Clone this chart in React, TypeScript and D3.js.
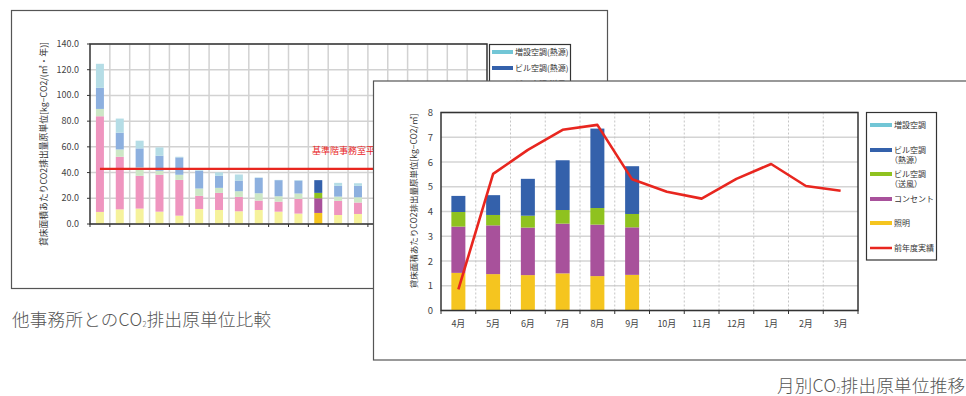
import React from "react";
import * as d3 from "d3";

// ---------- Chart 1: comparison with other offices ----------
const c1Count = 20;
const c1Lighting = [9.4, 11.4, 12.0, 9.6, 6.5, 11.7, 10.9, 9.9, 10.9, 9.6, 8.1, 8.6, 7.0, 7.8];
const c1Outlet = [74.4, 40.9, 25.5, 28.7, 27.8, 10.2, 13.3, 11.2, 7.3, 7.8, 11.4, 11.4, 11.0, 8.9];
const c1Fan = [5.7, 5.7, 6.5, 3.1, 4.0, 5.7, 3.9, 4.4, 5.7, 4.2, 4.2, 4.2, 3.3, 4.1];
const c1Heat = [16.4, 13.0, 14.8, 11.7, 13.5, 13.8, 9.4, 8.3, 12.0, 12.5, 10.1, 9.9, 8.4, 8.9];
const c1Extra = [18.7, 11.0, 6.0, 6.5, 0.5, 0.5, 2.6, 4.7, 0.3, 0.2, 0.3, 0, 2.3, 2.0];
const c1Highlight = 11;
const c1Baseline = 42.8;
const c1Ticks = [0, 20, 40, 60, 80, 100, 120, 140];
const c1Legend = ["増設空調(熱源)", "ビル空調(熱源)", "ビル空調(送風)", "コンセント", "照明"];

// ---------- Chart 2: monthly ----------
const months = ["4月", "5月", "6月", "7月", "8月", "9月", "10月", "11月", "12月", "1月", "2月", "3月"];
const m2Lighting = [1.52, 1.47, 1.43, 1.5, 1.39, 1.44];
const m2Outlet = [1.87, 1.97, 1.92, 2.01, 2.08, 1.92];
const m2Fan = [0.59, 0.42, 0.48, 0.55, 0.67, 0.54];
const m2Heat = [0.65, 0.8, 1.49, 2.01, 3.21, 1.93];
const m2Extra = [0, 0, 0, 0, 0, 0];
const m2Prev = [0.85, 5.52, 6.49, 7.3, 7.5, 5.3, 4.8, 4.52, 5.32, 5.92, 5.03, 4.84];
const m2Ticks = [0, 1, 2, 3, 4, 5, 6, 7, 8];
const m2Legend = [
  { lines: ["増設空調"], key: "extra" },
  { lines: ["ビル空調", "（熱源）"], key: "heat" },
  { lines: ["ビル空調", "（送風）"], key: "fan" },
  { lines: ["コンセント"], key: "outlet" },
  { lines: ["照明"], key: "lighting" },
  { lines: ["前年度実績"], key: "prev" },
];

const strong: Record<string, string> = {
  extra: "#72c6d6",
  heat: "#3461ab",
  fan: "#8fc21f",
  outlet: "#a8519b",
  lighting: "#f5c51f",
  prev: "#e8261f",
};
const pale: Record<string, string> = {
  extra: "#b5dde6",
  heat: "#8db0df",
  fan: "#cde7c6",
  outlet: "#ef95bf",
  lighting: "#f6f29c",
};

const FONT = "'Noto Sans CJK JP', 'Noto Sans', sans-serif";
const seriesKeys = ["lighting", "outlet", "fan", "heat", "extra"];

export default function App() {
  // chart 1 scales
  const x1 = d3.scaleBand<number>().domain(d3.range(c1Count)).range([90, 487]);
  const y1 = d3.scaleLinear().domain([0, 140]).range([224, 44]);
  const c1Data = c1Lighting.map((_, i) => ({
    lighting: c1Lighting[i],
    outlet: c1Outlet[i],
    fan: c1Fan[i],
    heat: c1Heat[i],
    extra: c1Extra[i],
  }));
  const stack1 = d3.stack<any>().keys(seriesKeys)(c1Data);

  // chart 2 scales
  const x2 = d3.scaleBand<string>().domain(months).range([441, 858]);
  const y2 = d3.scaleLinear().domain([0, 8]).range([310.5, 112.5]);
  const c2Data = m2Lighting.map((_, i) => ({
    lighting: m2Lighting[i],
    outlet: m2Outlet[i],
    fan: m2Fan[i],
    heat: m2Heat[i],
    extra: m2Extra[i],
  }));
  const stack2 = d3.stack<any>().keys(seriesKeys)(c2Data);
  const line2 = d3
    .line<number>()
    .x((_, i) => (x2(months[i]) as number) + x2.bandwidth() / 2)
    .y((d) => y2(d));

  const bw1 = 8;
  const bw2 = 14;

  return (
    <svg width={966} height={396} style={{ position: "absolute", left: 0, top: 0, fontFamily: FONT }}>
      <rect x={0} y={0} width={966} height={396} fill="#fff" />
      {/* ===== Chart 1 ===== */}
      <rect x={11.5} y={10.5} width={596} height={278} fill="#fff" stroke="#555" strokeWidth={1.2} />
      {/* grid */}
      {c1Ticks.map((t) => (
        <line key={"h" + t} x1={90} x2={487} y1={y1(t)} y2={y1(t)} stroke="#d2d2d2" strokeWidth={1.5} />
      ))}
      {d3.range(1, c1Count).map((i) => (
        <line key={"v" + i} x1={x1(i)} x2={x1(i)} y1={44} y2={224} stroke="#d2d2d2" strokeWidth={1.5} />
      ))}
      {/* bars */}
      {stack1.map((layer) =>
        layer.map((seg, i) => {
          const key = layer.key as string;
          const h = y1(seg[0]) - y1(seg[1]);
          if (h <= 0) return null;
          const cx = (x1(i) as number) + x1.bandwidth() / 2;
          return (
            <rect
              key={key + i}
              x={cx - bw1 / 2}
              y={y1(seg[1])}
              width={bw1}
              height={h}
              fill={i === c1Highlight ? strong[key] : pale[key]}
            />
          );
        })
      )}
      {/* baseline */}
      <line
        x1={(x1(0) as number) + x1.bandwidth() / 2}
        x2={(x1(c1Count - 1) as number) + x1.bandwidth() / 2}
        y1={y1(c1Baseline)}
        y2={y1(c1Baseline)}
        stroke="#e8261f"
        strokeWidth={2.2}
      />
      <text x={312} y={154} fontSize={9} fill="#e8261f">基準階事務室平均</text>
      {/* plot border */}
      <rect x={90} y={44} width={397} height={180} fill="none" stroke="#333" strokeWidth={1.5} />
      {c1Ticks.map((t) => (
        <g key={"t" + t}>
          <line x1={87} x2={90} y1={y1(t)} y2={y1(t)} stroke="#333" strokeWidth={1} />
          <text x={79} y={y1(t) + 3} fontSize={9} textAnchor="end" fill="#444">
            {t.toFixed(1)}
          </text>
        </g>
      ))}
      {d3.range(0, c1Count + 1).map((i) => (
        <line
          key={"bt" + i}
          x1={90 + (397 / c1Count) * i}
          x2={90 + (397 / c1Count) * i}
          y1={224}
          y2={227}
          stroke="#333"
        />
      ))}
      <text
        transform={`translate(47,144) rotate(-90)`}
        fontSize={8.8}
        textAnchor="middle"
        fill="#333"
      >
        貸床面積あたりCO2排出量原単位[kg−CO2/(㎡・年)]
      </text>
      {/* legend 1 */}
      <rect x={489.5} y={44.5} width={81} height={120} fill="#fff" stroke="#333" strokeWidth={1.2} />
      {c1Legend.map((name, i) => {
        const key = ["extra", "heat", "fan", "outlet", "lighting"][i];
        const y = 52 + i * 16;
        return (
          <g key={name}>
            <line x1={492} x2={513} y1={y} y2={y} stroke={strong[key]} strokeWidth={4} />
            <text x={515} y={y + 3} fontSize={8} fill="#333">
              {name}
            </text>
          </g>
        );
      })}
      <text x={12} y={326} fontSize={17.5} fill="#555" fontWeight={300} letterSpacing={0.3}>
        他事務所とのCO<tspan fontSize={7.5} dy={1}>2</tspan><tspan dy={-1}>排出原単位比較</tspan>
      </text>

      {/* ===== Chart 2 ===== */}
      <rect x={373.5} y={81} width={600} height={279} fill="#fff" stroke="#555" strokeWidth={1.2} />
      {m2Ticks.map((t) => (
        <line key={"h2" + t} x1={441} x2={858} y1={y2(t)} y2={y2(t)} stroke="#d4d4d4" strokeWidth={1.5} />
      ))}
      {months.slice(1).map((m) => (
        <line
          key={"v2" + m}
          x1={x2(m)}
          x2={x2(m)}
          y1={112.5}
          y2={310.5}
          stroke="#c4c4c4"
          strokeWidth={1}
          strokeDasharray="2,2"
        />
      ))}
      {stack2.map((layer) =>
        layer.map((seg, i) => {
          const key = layer.key as string;
          const h = y2(seg[0]) - y2(seg[1]);
          if (h <= 0) return null;
          const cx = (x2(months[i]) as number) + x2.bandwidth() / 2;
          return (
            <rect key={key + i} x={cx - bw2 / 2} y={y2(seg[1])} width={bw2} height={h} fill={strong[key]} />
          );
        })
      )}
      <path d={line2(m2Prev) || ""} fill="none" stroke="#e8261f" strokeWidth={2.6} strokeLinejoin="round" />
      <rect x={441} y={112.5} width={417} height={198} fill="none" stroke="#333" strokeWidth={1.5} />
      {m2Ticks.map((t) => (
        <text key={"l2" + t} x={433} y={y2(t) + 3.5} fontSize={9.5} textAnchor="end" fill="#444">
          {t}
        </text>
      ))}
      {months.map((m) => (
        <line
          key={"bt2" + m}
          x1={x2(m) as number}
          x2={x2(m) as number}
          y1={310.5}
          y2={314}
          stroke="#333"
        />
      ))}
      <line x1={858} x2={858} y1={310.5} y2={314} stroke="#333" />
      {months.map((m) => (
        <text
          key={"xl" + m}
          x={(x2(m) as number) + x2.bandwidth() / 2}
          y={327}
          fontSize={9}
          textAnchor="middle"
          fill="#444"
        >
          {m}
        </text>
      ))}
      <text transform={`translate(417,201) rotate(-90)`} fontSize={8.5} textAnchor="middle" fill="#333">
        貸床面積あたりCO2排出量原単位[kg−CO2/㎡]
      </text>
      {/* legend 2 */}
      <rect x={866.5} y={112.5} width={70} height={147.5} fill="#fff" stroke="#333" strokeWidth={1.2} />
      {m2Legend.map((item, i) => {
        const y = [125, 150, 174, 199, 223, 248][i];
        return (
          <g key={item.key}>
            <line
              x1={870}
              x2={892}
              y1={y}
              y2={y}
              stroke={strong[item.key]}
              strokeWidth={item.key === "prev" ? 2.5 : 4}
            />
            {item.lines.map((ln, j) => (
              <text key={j} x={ln.startsWith("（") ? 890 : 894} y={y + 3 + j * 9.5} fontSize={8} fill="#333">
                {ln}
              </text>
            ))}
          </g>
        );
      })}
      <text x={777} y={392} fontSize={17.5} fill="#555" fontWeight={300} letterSpacing={0.3}>
        月別CO<tspan fontSize={7.5} dy={1}>2</tspan><tspan dy={-1}>排出原単位推移</tspan>
      </text>
    </svg>
  );
}
